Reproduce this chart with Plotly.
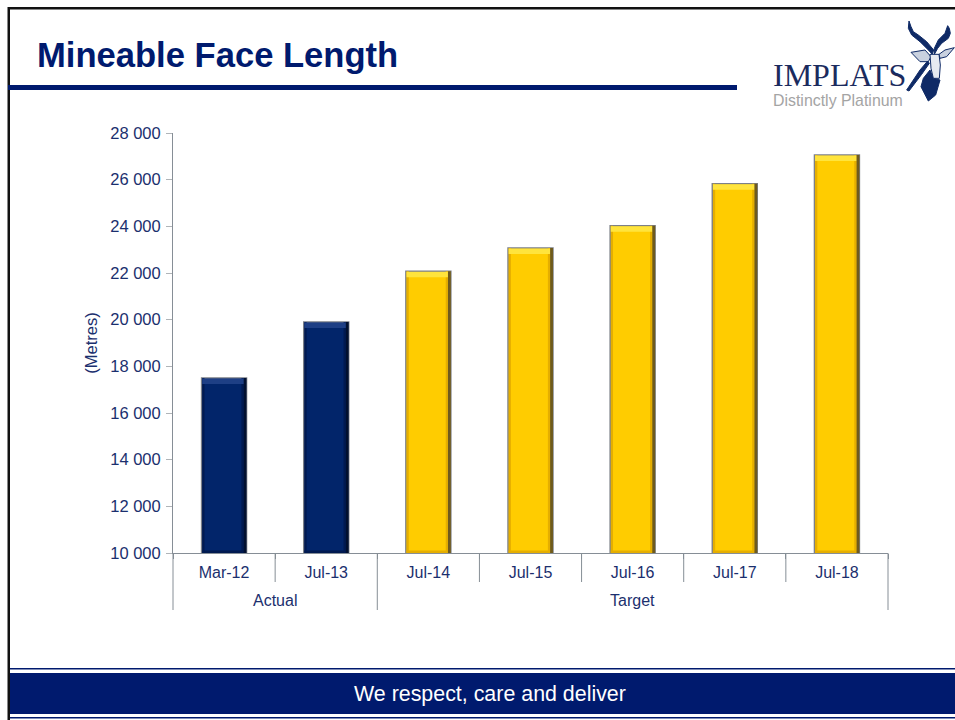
import plotly.graph_objects as go

groups = ["Actual", "Actual", "Target", "Target", "Target", "Target", "Target"]
dates = ["Mar-12", "Jul-13", "Jul-14", "Jul-15", "Jul-16", "Jul-17", "Jul-18"]
values = [17500, 19900, 22080, 23070, 24020, 25820, 27060]
colors = ["#02256A", "#02256A", "#FFCC00", "#FFCC00", "#FFCC00", "#FFCC00", "#FFCC00"]
top_colors = ["#1E3F85", "#1E3F85", "#FFE43C", "#FFE43C", "#FFE43C", "#FFE43C", "#FFE43C"]
side_colors = ["#011030", "#011030", "#6E5A1E", "#6E5A1E", "#6E5A1E", "#6E5A1E", "#6E5A1E"]
bevel_colors = ["#011A50", "#011A50", "#E5AE00", "#E5AE00", "#E5AE00", "#E5AE00", "#E5AE00"]
yticks = [10000, 12000, 14000, 16000, 18000, 20000, 22000, 24000, 26000, 28000]
yticktext = ["10 000", "12 000", "14 000", "16 000", "18 000", "20 000", "22 000", "24 000", "26 000", "28 000"]

NAVY = "#001A6E"
TEXT = "#1B2F6E"
AXIS = "#868E96"
L, R, T, B = 173, 888, 133, 553
W = 0.44
unit = 18000 / 420
n = len(dates)
heights = [v - 10000 for v in values]


def px(x):
    return (x - L) / (R - L)


def py(y):
    return (B - y) / (B - T)


def path(points):
    return "M " + " L ".join(f"{px(x):.5f},{py(y):.5f}" for x, y in points) + " Z"


def logo(points):
    return [(895 + a / 3, 15 + b / 3) for a, b in points]


def rect(x0, y0, x1, y1, color):
    return dict(type="rect", xref="paper", yref="paper", x0=px(x0), x1=px(x1), y0=py(y0), y1=py(y1),
                fillcolor=color, line_width=0, layer="below")


fig = go.Figure()
fig.add_bar(x=dates, y=heights, base=10000, width=W, marker=dict(color=colors, line=dict(color="#7C8088", width=1.5)))
fig.add_bar(x=dates, y=[2.5 * unit] * n, base=10000, width=W - 0.012, marker=dict(color=bevel_colors, line_width=0))
fig.add_bar(x=dates, y=heights, base=10000, width=0.022, offset=W / 2 - 0.05, marker=dict(color=bevel_colors, line_width=0))
fig.add_bar(x=dates, y=heights, base=10000, width=0.022, offset=-W / 2 + 0.006, marker=dict(color=bevel_colors, line_width=0))
fig.add_bar(x=dates, y=[5.5 * unit] * n, base=[v - 6 * unit for v in values], width=W - 0.012, marker=dict(color=top_colors, line_width=0))
fig.add_bar(x=dates, y=heights, base=10000, width=0.028, offset=W / 2 - 0.028, marker=dict(color=side_colors, line_width=0))

shapes = [
    rect(8, 7, 955, 9.5, "#111111"),
    rect(7.5, 7, 10, 720, "#111111"),
    rect(8, 85, 737, 90, NAVY),
    rect(10, 668, 955, 669.5, NAVY),
    rect(10, 673, 955, 714, NAVY),
    rect(10, 717, 955, 718.5, NAVY),
]

# dividers below the axis, placed from the category and group lists
slot = (R - L) / n
bounds = [0] + [i for i in range(1, n) if groups[i] != groups[i - 1]] + [n]
for b in range(n + 1):
    xb = L + b * slot
    shapes.append(dict(type="line", xref="paper", yref="paper", x0=px(xb), x1=px(xb), y0=py(B),
                       y1=py(610 if b in bounds else 582), line=dict(color=AXIS, width=1)))

LOGO = "#0F2A66"
horn_l = [(42, 18), (40, 40), (50, 60), (75, 80), (100, 105), (112, 118), (116, 105), (95, 80), (70, 60), (55, 50), (48, 35)]
horn_r = [(158, 32), (150, 55), (130, 75), (118, 100), (118, 118), (128, 100), (140, 85), (160, 70), (166, 55), (163, 40)]
ear_l = [(48, 112), (90, 105), (108, 125), (100, 140), (75, 140)]
ear_r = [(178, 98), (150, 105), (132, 118), (135, 130), (155, 125)]
neck = [(105, 165), (85, 190), (78, 215), (100, 258), (122, 240), (135, 195), (115, 190)]
sweep = [(35, 225), (75, 165), (98, 138), (103, 145), (80, 178), (42, 228)]
face = [(105, 118), (132, 118), (136, 150), (133, 190), (115, 190), (108, 160)]
for pts, fill, edge in [(horn_l, LOGO, LOGO), (horn_r, LOGO, LOGO), (ear_l, "#C9D1DF", LOGO), (ear_r, "#C9D1DF", LOGO),
                        (sweep, LOGO, LOGO), (neck, LOGO, LOGO), (face, "#E6EAF1", LOGO)]:
    shapes.append(dict(type="path", xref="paper", yref="paper", path=path(logo(pts)), fillcolor=fill,
                       line=dict(color=edge, width=1), layer="above"))

annotations = [
    dict(text="<b>Mineable Face Length</b>", x=px(35), y=py(55), xanchor="left", yanchor="middle",
         font=dict(size=34.6, color=NAVY, family="Liberation Sans")),
    dict(text="IMPLATS", x=px(771), y=py(75), xanchor="left", yanchor="middle",
         font=dict(size=32, color="#1B2B5E", family="Liberation Serif")),
    dict(text="Distinctly Platinum", x=px(771), y=py(100), xanchor="left", yanchor="middle",
         font=dict(size=15.9, color="#A4A4A4", family="Liberation Sans")),
    dict(text="We respect, care and deliver", x=px(490), y=py(693.5), xanchor="center", yanchor="middle",
         font=dict(size=21.4, color="#FFFFFF", family="Liberation Sans")),
]
# group captions centred on their spans
for a, b in zip(bounds[:-1], bounds[1:]):
    annotations.append(dict(text=groups[a], x=px(L + (a + b) / 2 * slot), y=py(600), xanchor="center", yanchor="middle",
                            font=dict(size=16, color=TEXT, family="Liberation Sans")))
for a in annotations:
    a.update(xref="paper", yref="paper", showarrow=False)

fig.update_layout(
    width=955, height=720, autosize=False,
    margin=dict(l=L, r=955 - R, t=T, b=720 - B),
    paper_bgcolor="white", plot_bgcolor="white",
    barmode="overlay", bargap=0.56, showlegend=False,
    font=dict(family="Liberation Sans", size=15, color=TEXT),
    shapes=shapes, annotations=annotations,
)
fig.update_xaxes(type="category", categoryorder="array", categoryarray=dates, showline=True, linecolor=AXIS, linewidth=1,
                 ticks="outside", tickson="boundaries", ticklen=5, tickcolor=AXIS, showgrid=False,
                 ticklabelstandoff=5, tickfont=dict(size=16, color=TEXT))
fig.update_yaxes(range=[10000, 28000], tickvals=yticks, ticktext=yticktext, showline=True, linecolor=AXIS,
                 linewidth=1, ticks="outside", ticklen=6, tickcolor="#B0B4B8", showgrid=False, zeroline=False,
                 ticklabelstandoff=2, tickfont=dict(size=16.5, color=TEXT),
                 title=dict(text="(Metres)", font=dict(size=16.5, color=TEXT), standoff=8))

fig.write_html("out.html", config={"displayModeBar": False}, post_script="document.body.style.margin='0';")
